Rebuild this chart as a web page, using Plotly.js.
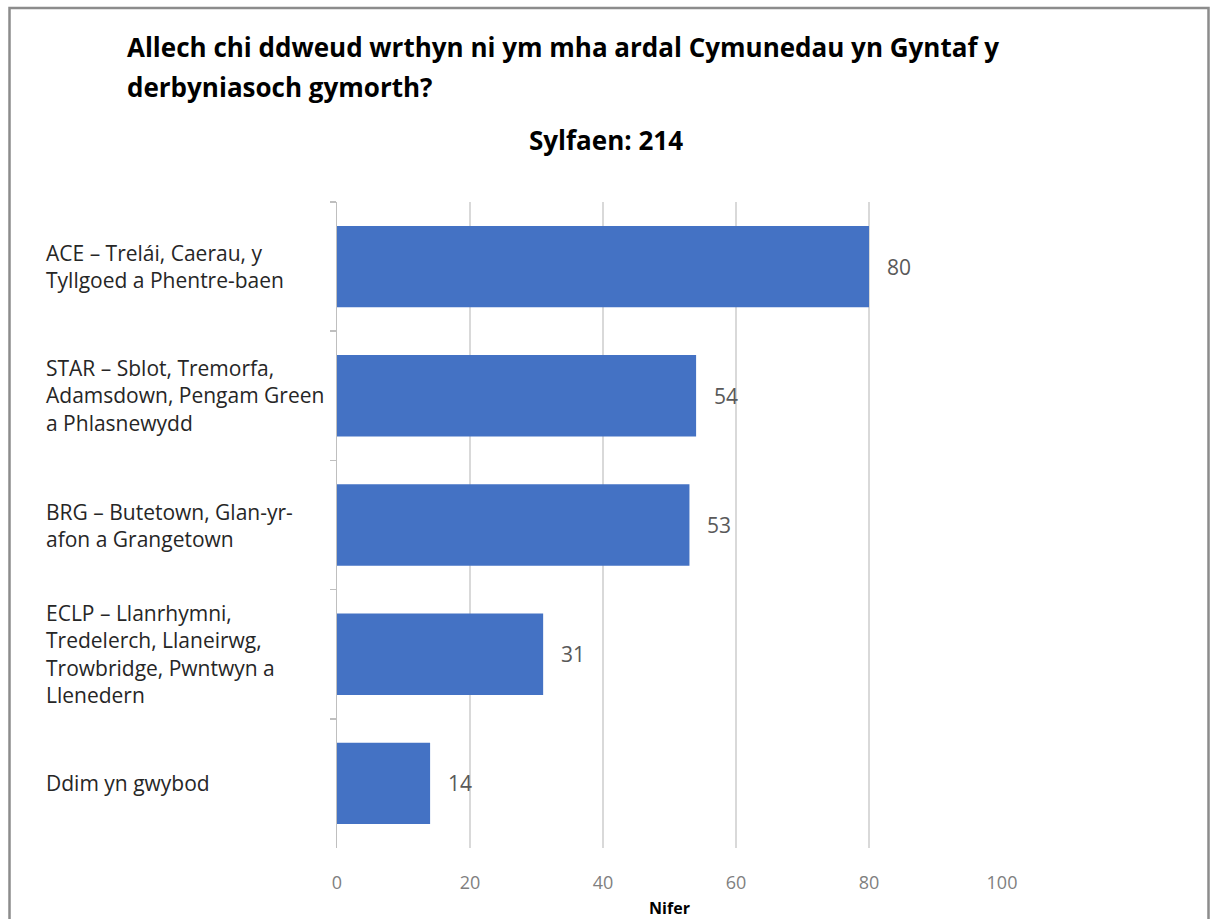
<!DOCTYPE html>
<html>
<head>
<meta charset="utf-8">
<script src="https://cdn.plot.ly/plotly-3.0.1.min.js"></script>
<style>
html,body{margin:0;padding:0;background:#fff;}
#chart{width:1211px;height:919px;}
</style>
</head>
<body>
<div id="chart"></div>
<script>
const categories = [
  "ACE – Trelái, Caerau, y<br>Tyllgoed a Phentre-baen",
  "STAR – Sblot, Tremorfa,<br>Adamsdown, Pengam Green<br>a Phlasnewydd",
  "BRG – Butetown, Glan-yr-<br>afon a Grangetown",
  "ECLP – Llanrhymni,<br>Tredelerch, Llaneirwg,<br>Trowbridge, Pwntwyn a<br>Llenedern",
  "Ddim yn gwybod"
];
const values = [80, 54, 53, 31, 14];
const xTicks = [0, 20, 40, 60, 80, 100];
const titleLines = ["Allech chi ddweud wrthyn ni ym mha ardal Cymunedau yn Gyntaf y", "derbyniasoch gymorth?"];
const subtitleText = "Sylfaen: 214";
const xTitle = "Nifer";

const L = 337, R = 1002, T = 202, B = 848;
const W = 1211, H = 919;
const pw = R - L, ph = B - T;
const px = v => (v - L) / pw;
const py = v => (B - v) / ph;

const FAM = "Open Sans, Noto Sans, sans-serif";
const labelFont = {family: FAM, size: 21, color: "#262626"};

const annotations = [];
categories.forEach((c, i) => {
  annotations.push({
    xref: "paper", yref: "y", x: px(44), y: c, xanchor: "left", yanchor: "middle",
    text: c, align: "left", showarrow: false, font: labelFont
  });
  annotations.push({
    xref: "x", yref: "y", x: values[i], y: c, xanchor: "left", yanchor: "middle",
    xshift: 16, text: String(values[i]), showarrow: false,
    font: {family: FAM, size: 21, color: "#595959"}
  });
});
const titleY = [47, 87];
titleLines.forEach((t, i) => {
  annotations.push({
    xref: "paper", yref: "paper", x: px(125), y: py(titleY[i]), xanchor: "left", yanchor: "middle",
    text: "<b>" + t + "</b>", showarrow: false,
    font: {family: FAM, size: 26, color: "#000"}
  });
});
annotations.push({
  xref: "paper", yref: "paper", x: px(606), y: py(140), xanchor: "center", yanchor: "middle",
  text: "<b>" + subtitleText + "</b>", showarrow: false,
  font: {family: FAM, size: 26, color: "#000"}
});

const trace = {
  type: "bar", orientation: "h",
  x: values, y: categories,
  marker: {color: "#4472C4"},
  width: 0.63,
  hoverinfo: "x+y"
};

const layout = {
  width: W, height: H,
  margin: {l: L, r: W - R, t: T, b: H - B},
  paper_bgcolor: "#fff", plot_bgcolor: "#fff",
  showlegend: false,
  xaxis: {
    range: [0, 100], tickvals: xTicks, ticktext: xTicks.map(String),
    showgrid: true, gridcolor: "#d9d9d9", gridwidth: 1.5,
    zeroline: false, showline: false, ticks: "",
    ticklabelstandoff: 22,
    tickfont: {family: FAM, size: 18, color: "#7f7f7f"},
    title: {text: "<b>" + xTitle + "</b>", standoff: 10,
      font: {family: FAM, size: 16, color: "#000"}},
    fixedrange: true
  },
  yaxis: {
    type: "category", categoryorder: "array", categoryarray: categories,
    autorange: "reversed",
    showticklabels: false, showgrid: false, zeroline: false,
    showline: true, linecolor: "#bfbfbf", linewidth: 1.5,
    ticks: "outside", tickson: "boundaries", ticklen: 6, tickcolor: "#bfbfbf", tickwidth: 1.5,
    fixedrange: true
  },
  bargap: 0.37,
  annotations: annotations,
  shapes: [{
    type: "rect", xref: "paper", yref: "paper",
    x0: px(9.5), x1: px(1208.5), y0: py(8), y1: py(940),
    line: {color: "#8c8c8c", width: 2.5}, fillcolor: "rgba(0,0,0,0)", layer: "below"
  }]
};

Plotly.newPlot("chart", [trace], layout, {displayModeBar: false, staticPlot: true});
</script>
</body>
</html>
